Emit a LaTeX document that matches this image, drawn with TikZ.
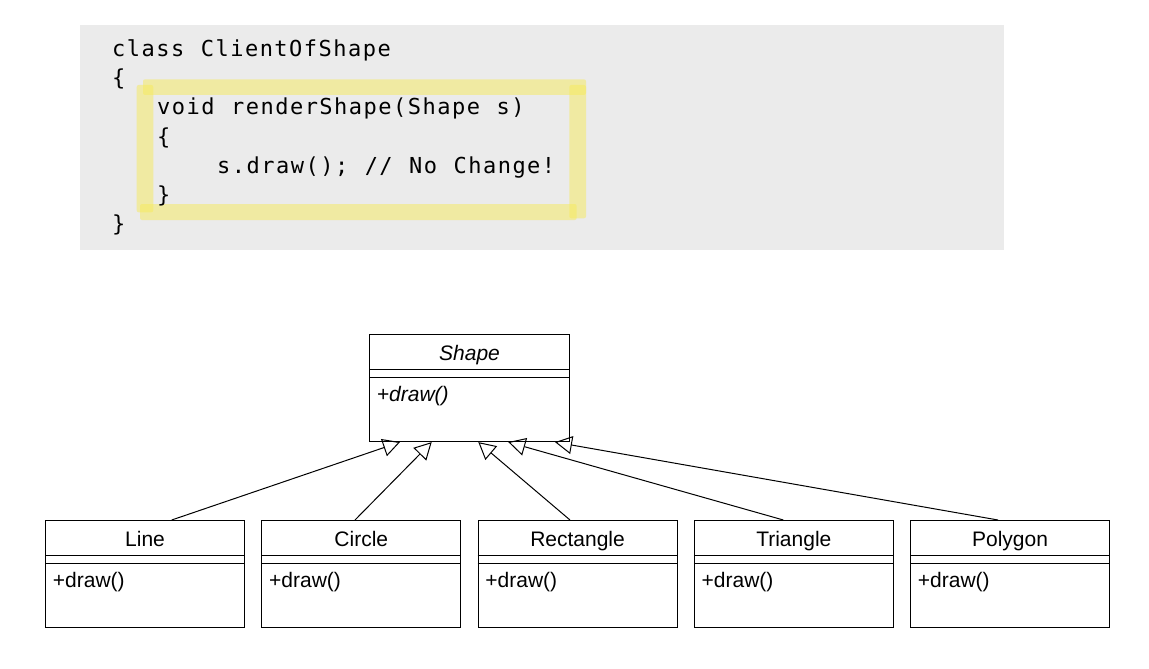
\documentclass[tikz,border=0pt]{standalone}
\usepackage{fontspec}
\usetikzlibrary{arrows.meta}
\newfontfamily\umlfont{Liberation Sans}
\newfontfamily\codefont{DejaVu Sans Mono}[LetterSpace=6.8,WordSpace={1.113,0,0}]
\definecolor{codebg}{RGB}{235,235,235}
\definecolor{hlyellow}{RGB}{246,234,90}
\tikzset{
  umlbox/.style={draw, line width=1.1pt, minimum width=199pt, minimum height=106.7pt, anchor=north west, inner sep=0pt},
  umlname/.style={font={\fontsize{21pt}{25pt}\selectfont\umlfont}, inner sep=0pt, anchor=base},
  umlop/.style={font={\fontsize{21pt}{25pt}\selectfont\umlfont}, inner sep=0pt, anchor=base west},
  divider/.style={line width=1.1pt},
  gen/.style={line width=1pt, -{Triangle[open, length=17pt, width=18pt, line width=1pt]}},
  hl/.style={fill=hlyellow, fill opacity=0.5, rounded corners=2pt},
  codeline/.style={font={\fontsize{22pt}{26pt}\selectfont\codefont}, anchor=base west, inner sep=0pt}
}
\begin{document}
\begin{tikzpicture}[x=1pt,y=-1pt]
\useasboundingbox (0,0) rectangle (1149,669);
% code panel
\fill[codebg] (80,25) rectangle (1004,250);
% highlight strokes
\fill[hl] (143,79.3) rectangle (586,95);
\fill[hl] (136.7,85) rectangle (153.3,212.3);
\fill[hl] (569.3,85) rectangle (586,218.3);
\fill[hl] (140,204) rectangle (576.7,220);
% code text
\node[codeline] (c1) at (112,56.7) {class ClientOfShape};
\node[codeline] (c2) at (112,85.8) {\{};
\node[codeline] (c3) at (157,114.9) {void renderShape(Shape s)};
\node[codeline] (c4) at (157,144.0) {\{};
\node[codeline] (c5) at (217,173.1) {s.draw(); // No Change!};
\node[codeline] (c6) at (157,202.2) {\}};
\node[codeline] (c7) at (112,231.3) {\}};
% Shape class
\node[umlbox, minimum width=200pt, minimum height=107pt] (shape) at (369,334) {};
\draw[divider] ([yshift=-35.5pt]shape.north west) -- ([yshift=-35.5pt]shape.north east);
\draw[divider] ([yshift=-43.3pt]shape.north west) -- ([yshift=-43.3pt]shape.north east);
\node[umlname] (shapen) at ([yshift=-26.7pt]shape.north) {\itshape Shape};
\node[umlop] (shapeo) at ([xshift=7.7pt,yshift=-67.5pt]shape.north west) {\itshape +draw()};
% subclasses
\foreach \nm/\lab/\xx in {line/Line/45, circle/Circle/261.25, rect/Rectangle/477.5, tri/Triangle/693.75, poly/Polygon/910}{
  \node[umlbox] (\nm) at (\xx,520) {};
  \draw[divider] ([yshift=-35.5pt]\nm.north west) -- ([yshift=-35.5pt]\nm.north east);
  \draw[divider] ([yshift=-43.3pt]\nm.north west) -- ([yshift=-43.3pt]\nm.north east);
  \node[umlname] (\nm n) at ([yshift=-26.7pt]\nm.north) {\lab};
  \node[umlop] (\nm o) at ([xshift=7.7pt,yshift=-67.5pt]\nm.north west) {+draw()};
}
% generalisations
\draw[gen] ([xshift=126.7pt]line.north west) -- ([xshift=31pt]shape.south west);
\draw[gen] ([xshift=93.75pt]circle.north west) -- ([xshift=62.7pt]shape.south west);
\draw[gen] ([xshift=92.5pt]rect.north west) -- ([xshift=109.3pt]shape.south west);
\draw[gen] ([xshift=89.6pt]tri.north west) -- ([xshift=139.3pt]shape.south west);
\draw[gen] ([xshift=88pt]poly.north west) -- ([xshift=186pt]shape.south west);
\end{tikzpicture}
\end{document}
